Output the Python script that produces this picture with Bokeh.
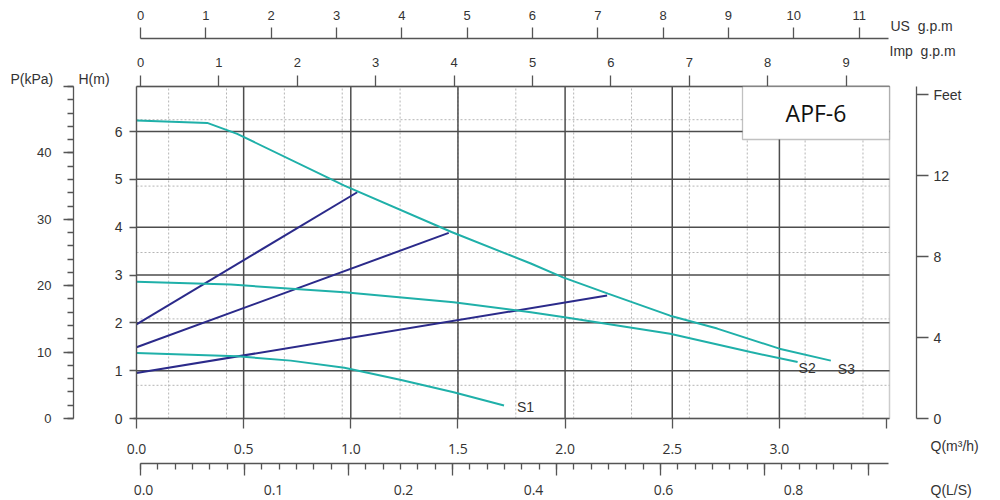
from bokeh.plotting import figure
from bokeh.models import (LinearAxis, Range1d, FixedTicker, BoxAnnotation,
                          Label, PrintfTickFormatter, CustomJSTickFormatter)
from bokeh.embed import file_html
from bokeh.resources import INLINE

# ---------------- data ----------------
# pump curves (Q in m3/h, H in m)
Q_S3 = [0.00, 0.33, 0.47, 0.97, 1.47, 1.84, 1.99, 2.20, 2.49, 2.71, 3.00, 3.24]
H_S3 = [6.23, 6.18, 5.95, 4.87, 3.90, 3.24, 2.95, 2.61, 2.15, 1.88, 1.46, 1.21]
Q_S2 = [0.00, 0.44, 0.97, 1.48, 1.84, 1.99, 2.49, 2.865, 3.085]
H_S2 = [2.86, 2.80, 2.64, 2.43, 2.22, 2.12, 1.77, 1.39, 1.18]
Q_S1 = [0.00, 0.47, 0.72, 0.97, 1.23, 1.48, 1.715]
H_S1 = [1.37, 1.30, 1.21, 1.06, 0.81, 0.55, 0.27]
# system curves
Q_N1 = [0.00, 1.03]
H_N1 = [1.97, 4.73]
Q_N2 = [0.00, 1.457]
H_N2 = [1.49, 3.88]
Q_N3 = [0.00, 2.196]
H_N3 = [0.95, 2.57]

SERIES_NAMES = ["S1", "S2", "S3"]
TITLE = "APF-6"

# axis ticks / labels
Q_TICKS = [0.0, 0.5, 1.0, 1.5, 2.0, 2.5, 3.0]
H_TICKS = [0, 1, 2, 3, 4, 5, 6]
P_TICKS = [0, 10, 20, 30, 40, 50]
P_DOTTED = [5, 15, 25, 35, 45]
FT_TICKS = [0, 4, 8, 12, 16]
FT_OVERRIDES = {16: "Feet"}
P_OVERRIDES = {50: ""}
IMP_TICKS = [0, 1, 2, 3, 4, 5, 6, 7, 8, 9]
US_TICKS = [0, 1, 2, 3, 4, 5, 6, 7, 8, 9, 10, 11]
LS_LABELS = ["0.0", "0.1", "0.2", "0.4", "0.6", "0.8"]
LS_LABEL_POS = [0.0, 0.1, 0.2, 0.3, 0.4, 0.5]
LS_MAJOR = [0.0, 0.08, 0.16, 0.24, 0.32, 0.40, 0.48, 0.56]
Q_DOTTED = [0.15, 0.42, 0.69, 0.96, 1.23, 1.50, 1.77, 2.04, 2.31, 2.58, 2.85, 3.12, 3.39]

# ---------------- layout / styling ----------------
TEAL = "#1fb0a9"
NAVY = "#2b2a8a"
AX = "#555555"
GRID = "#4d4d4d"
DOT = "#b5b5b5"
TXT = "#333333"
SANS = "Liberation Sans"
OSANS = "Open Sans"

W, HGT = 1000, 500
QPX, Q0 = 214.3, 136.0     # px per m3/h, pixel of Q = 0
HPX, H0 = 47.83, 418.0     # px per m, pixel of H = 0
Q_END = (889 - Q0) / QPX
H_END = (H0 - 86) / HPX


def qx(px):
    return (px - Q0) / QPX


def hy(py):
    return (H0 - py) / HPX


def lin_range(zero_px, per_unit, size, flip=False):
    if flip:
        return Range1d((zero_px - size) / per_unit, zero_px / per_unit)
    return Range1d(-zero_px / per_unit, (size - zero_px) / per_unit)


p = figure(width=W, height=HGT, x_range=Range1d(qx(0), qx(W)), y_range=Range1d(hy(HGT), hy(0)),
           output_backend="svg", toolbar_location=None, min_border=0,
           x_axis_location=None, y_axis_location=None,
           background_fill_color="white", border_fill_color="white")
p.outline_line_color = None
p.grid.visible = False

p.extra_y_ranges = {"p": lin_range(H0, (H0 - 86) / 50.0, HGT, flip=True),
                    "ft": lin_range(H0, (H0 - 86) / 16.4, HGT, flip=True)}
p.extra_x_ranges = {"imp": lin_range(140, 78.4, W), "us": lin_range(140, 65.33, W),
                    "ls": lin_range(140, 1300.0, W)}

# grid lines (dotted then solid)
p.segment(x0=Q_DOTTED, y0=0, x1=Q_DOTTED, y1=H_END, line_color=DOT, line_dash="2 2", line_width=1)
p.segment(x0=0, y0=P_DOTTED, x1=Q_END, y1=P_DOTTED, y_range_name="p", line_color=DOT,
          line_dash="2 2", line_width=1)
p.segment(x0=Q_TICKS[1:], y0=0, x1=Q_TICKS[1:], y1=H_END, line_color=GRID, line_width=1.5)
p.segment(x0=0, y0=H_TICKS[1:], x1=Q_END, y1=H_TICKS[1:], line_color=GRID, line_width=1.5)

# frame
p.add_layout(BoxAnnotation(left=0, right=Q_END, bottom=0, top=H_END, fill_alpha=0,
                           line_color=AX, line_width=1.5, level="underlay"))


def style_axis(ax, size="13px", font=SANS):
    ax.axis_line_color = AX
    ax.axis_line_width = 1.3
    ax.major_tick_line_color = AX
    ax.major_tick_line_width = 1.3
    ax.minor_tick_line_color = AX
    ax.minor_tick_line_width = 1.3
    ax.major_tick_in = 0
    ax.minor_tick_in = 0
    ax.major_label_text_font = font
    ax.major_label_text_font_size = size
    ax.major_label_text_color = TXT
    return ax


# bottom Q axis
qax = style_axis(LinearAxis(fixed_location=0, bounds=(qx(133), Q_END),
                            ticker=FixedTicker(ticks=Q_TICKS, minor_ticks=[3.5]),
                            formatter=PrintfTickFormatter(format="%.1f")), "14px", OSANS)
qax.major_tick_out = 10
qax.minor_tick_out = 10
qax.major_label_standoff = 15
p.add_layout(qax, "below")

# bottom L/S axis
ls_minor = [round(i * 0.08 / 6, 5) for i in range(0, 43)]
lax = style_axis(LinearAxis(x_range_name="ls", fixed_location=hy(463), bounds=(0, 0.575),
                            ticker=FixedTicker(ticks=LS_MAJOR, minor_ticks=ls_minor),
                            formatter=CustomJSTickFormatter(code="return ''")), "1px")
lax.major_tick_out = 12
lax.minor_tick_out = 6
p.add_layout(lax, "below")

# left H axis
hax = style_axis(LinearAxis(fixed_location=0, bounds=(0, H_END),
                            ticker=FixedTicker(ticks=H_TICKS)), "14px")
hax.major_tick_out = 7
hax.minor_tick_out = 0
hax.major_label_standoff = 7
p.add_layout(hax, "left")

# left P axis
pax = style_axis(LinearAxis(y_range_name="p", fixed_location=qx(73), bounds=(0, 50),
                            ticker=FixedTicker(ticks=P_TICKS, minor_ticks=list(range(0, 51, 2))),
                            major_label_overrides=P_OVERRIDES), "13px")
pax.major_tick_out = 10
pax.minor_tick_out = 6
pax.major_label_standoff = 12
p.add_layout(pax, "left")

# right Feet axis
fax = style_axis(LinearAxis(y_range_name="ft", fixed_location=qx(916), bounds=(0, 16.4),
                            ticker=FixedTicker(ticks=FT_TICKS),
                            major_label_overrides=FT_OVERRIDES), "14px")
fax.major_tick_out = 12
fax.minor_tick_out = 0
fax.major_label_standoff = 5
p.add_layout(fax, "right")

# top Imp axis
iax = style_axis(LinearAxis(x_range_name="imp", fixed_location=H_END, bounds=(-0.051, 9.554),
                            ticker=FixedTicker(ticks=IMP_TICKS)), "13px")
iax.major_tick_out = 11
iax.minor_tick_out = 0
iax.major_label_standoff = 9
p.add_layout(iax, "above")

# top US axis
uax = style_axis(LinearAxis(x_range_name="us", fixed_location=hy(37.5), bounds=(0, 11.45),
                            ticker=FixedTicker(ticks=US_TICKS)), "13px")
uax.major_tick_out = 11
uax.minor_tick_out = 0
uax.major_label_standoff = 7
p.add_layout(uax, "above")

# curves
p.line(Q_N1, H_N1, line_color=NAVY, line_width=2)
p.line(Q_N2, H_N2, line_color=NAVY, line_width=2)
p.line(Q_N3, H_N3, line_color=NAVY, line_width=2)
p.line(Q_S3, H_S3, line_color=TEAL, line_width=2)
p.line(Q_S2, H_S2, line_color=TEAL, line_width=2)
p.line(Q_S1, H_S1, line_color=TEAL, line_width=2)


def text(t, x, y, dx=0, dy=0, size="14px", font=SANS, align="left", color=TXT, **kw):
    p.add_layout(Label(x=x, y=y, x_offset=dx, y_offset=dy, text=t, text_font=font,
                       text_font_size=size, text_color=color, text_align=align,
                       text_baseline="middle", **kw))


for q, h, name, dx, dy in [(Q_S1[-1], H_S1[-1], SERIES_NAMES[0], 13, -1),
                           (Q_S2[-1], H_S2[-1], SERIES_NAMES[1], 1, -6),
                           (Q_S3[-1], H_S3[-1], SERIES_NAMES[2], 7, -8)]:
    text(name, q, h, dx, dy)

# L/S labels
for pos, t in zip(LS_LABEL_POS, LS_LABELS):
    text(t, pos, hy(489), dx=3, font=OSANS, align="center", x_range_name="ls")

# title box
BOX_L, BOX_B = qx(742), hy(139)
p.add_layout(BoxAnnotation(left=BOX_L, right=Q_END, bottom=BOX_B, top=H_END, fill_color="white",
                           fill_alpha=1.0, line_color="#333333", line_width=1.3))
text(TITLE, (BOX_L + Q_END) / 2, (BOX_B + H_END) / 2, size="23px", font=OSANS,
     align="center", color="#111111")

# outer labels
text("P(kPa)", qx(10), hy(78))
text("H(m)", qx(78), hy(78))
text("US\u00a0 g.p.m", qx(890), hy(25))
text("Imp\u00a0 g.p.m", qx(889), hy(50))
text("Q(m³/h)", qx(930), hy(445))
text("Q(L/S)", qx(930), hy(489))

open("out.html", "w").write(file_html(p, INLINE))
